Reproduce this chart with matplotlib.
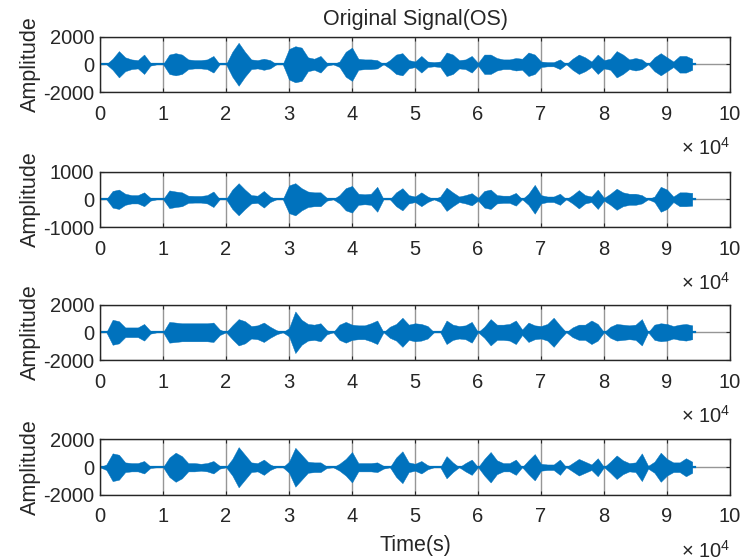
import matplotlib
matplotlib.use("Agg")
import matplotlib.pyplot as plt
import numpy as np
from matplotlib.ticker import FuncFormatter

plt.rcParams['font.family'] = ['Liberation Sans', 'DejaVu Sans']
plt.rcParams['mathtext.fontset'] = 'custom'
plt.rcParams['mathtext.rm'] = 'Liberation Sans'
plt.rcParams['axes.unicode_minus'] = False

# sample index of each envelope point (one per 1000 samples)
samples = np.arange(0, 95) * 1000
signal_end = 94500

# peak amplitude envelope of each channel, one value per 1000 samples
env_os = [
    0, 0, 400, 950, 500, 350, 300, 700, 100, 0,
    0, 700, 800, 700, 350, 300, 300, 350, 600, 0,
    0, 900, 1550, 900, 350, 300, 400, 300, 0, 0,
    1100, 1300, 1200, 500, 400, 600, 100, 0, 200, 900,
    1200, 400, 350, 350, 300, 0, 300, 700, 800, 300,
    200, 600, 200, 150, 200, 850, 700, 300, 350, 600,
    100, 700, 700, 450, 350, 350, 450, 400, 850, 700,
    200, 150, 150, 350, 0, 400, 700, 500, 200, 700,
    300, 400, 950, 700, 350, 450, 350, 0, 500, 800,
    500, 200, 600, 600, 400,
]
env_2 = [
    0, 0, 300, 350, 200, 150, 150, 250, 50, 0,
    0, 320, 280, 250, 130, 120, 120, 150, 280, 0,
    0, 350, 580, 350, 150, 130, 300, 100, 0, 0,
    500, 580, 400, 280, 250, 250, 50, 0, 150, 400,
    480, 200, 180, 200, 450, 0, 0, 250, 400, 150,
    100, 250, 100, 0, 100, 420, 250, 100, 150, 220,
    50, 300, 350, 150, 130, 130, 230, 0, 200, 520,
    150, 100, 100, 200, 0, 150, 330, 150, 100, 350,
    50, 200, 380, 250, 200, 200, 150, 0, 100, 450,
    350, 100, 250, 250, 230,
]
env_3 = [
    0, 0, 900, 800, 350, 350, 350, 600, 100, 0,
    0, 750, 700, 650, 650, 650, 650, 650, 700, 200,
    0, 500, 950, 800, 450, 500, 700, 400, 150, 0,
    300, 1500, 900, 600, 550, 650, 150, 0, 550, 750,
    550, 500, 500, 650, 850, 0, 400, 600, 1050, 550,
    650, 600, 450, 0, 0, 850, 550, 450, 500, 750,
    0, 400, 950, 550, 550, 600, 850, 200, 700, 500,
    450, 600, 1050, 500, 0, 350, 550, 550, 850, 600,
    0, 400, 600, 550, 500, 550, 950, 0, 550, 650,
    600, 450, 550, 600, 500,
]
env_4 = [
    0, 200, 1000, 900, 350, 300, 300, 450, 50, 0,
    0, 700, 1050, 800, 300, 300, 250, 300, 450, 100,
    0, 600, 1450, 900, 350, 300, 550, 200, 0, 0,
    400, 1400, 900, 400, 350, 350, 50, 0, 250, 600,
    1100, 300, 300, 300, 350, 100, 0, 700, 1150, 350,
    250, 450, 150, 0, 0, 800, 350, 0, 300, 550,
    0, 600, 1100, 500, 300, 300, 550, 0, 500, 950,
    250, 200, 200, 550, 0, 300, 600, 400, 200, 650,
    0, 400, 850, 500, 300, 350, 1000, 100, 400, 1050,
    600, 350, 350, 650, 400,
]

channels = [env_os, env_2, env_3, env_4]
y_limits = [2000, 1000, 2000, 2000]
x_ticks = np.arange(0, 11) * 10000

line_color = '#0072BD'
grid_color = '#969696'
text_color = '#262626'

fig = plt.figure(figsize=(7.47, 5.6), dpi=100)

bottoms = [0.8357, 0.5946, 0.3571, 0.1161]
axes = []
for i, env in enumerate(channels):
    ax = fig.add_axes([0.1339, bottoms[i], 0.8434, 0.0991])
    env = np.array(env, dtype=float)
    ax.fill_between(samples, -env, env, color=line_color, linewidth=0.3,
                    edgecolor=line_color, zorder=3)
    ax.plot([0, signal_end], [0, 0], color=line_color, linewidth=1.6, zorder=3)

    ylim = y_limits[i]
    ax.set_xlim(0, 100000)
    ax.set_ylim(-ylim, ylim)
    ax.set_xticks(x_ticks)
    ax.xaxis.set_major_formatter(FuncFormatter(lambda v, p: f"{v / 1e4:g}"))
    ax.set_yticks([-ylim, 0, ylim])
    ax.grid(True, color=grid_color, linewidth=1.0, zorder=1)
    ax.set_axisbelow(True)
    ax.tick_params(direction='in', length=3, width=0.8, colors=text_color,
                   labelsize=14.5, top=True, right=True)
    ax.tick_params(axis='x', pad=9)
    ax.tick_params(axis='y', pad=4)
    for sp in ax.spines.values():
        sp.set_color(text_color)
        sp.set_linewidth(1.0)
        sp.set_zorder(4)
    ax.set_ylabel('Amplitude', fontsize=15.5, color=text_color, labelpad=2)
    ax.text(1.0, -1.0, r'$\times$ 10$^{4}$', transform=ax.transAxes,
            ha='right', va='center', fontsize=14.5, color=text_color)
    axes.append(ax)

axes[0].set_title('Original Signal(OS)', fontsize=15.5, color=text_color, pad=8)
axes[-1].set_xlabel('Time(s)', fontsize=15.5, color=text_color, labelpad=6)

fig.savefig('out.png', dpi=100, facecolor='white')
